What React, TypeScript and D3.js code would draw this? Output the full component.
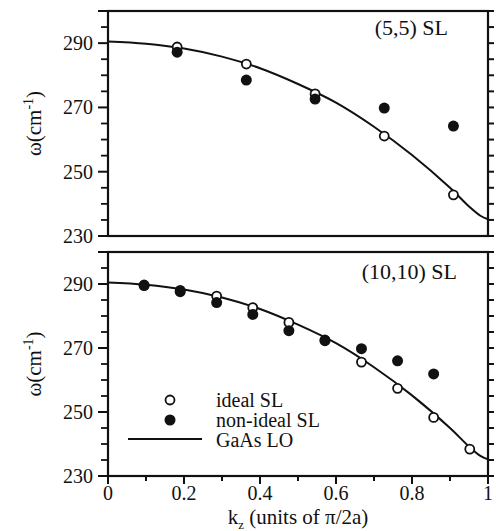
import React from 'react';
import * as d3 from 'd3';

// GaAs LO bulk dispersion
const curveK = [0, 0.1, 0.2, 0.3, 0.4, 0.5, 0.6, 0.7, 0.8, 0.9, 0.95, 0.98, 1.0];
const curveW = [290.5, 289.8, 288.3, 285.8, 282.2, 277.3, 271.5, 264.0, 255.2, 245.0, 239.2, 236.3, 235.2];

// (5,5) SL
const k5 = [0.182, 0.364, 0.545, 0.727, 0.909];
const ideal5 = [288.8, 283.5, 274.2, 261.1, 242.8];
const nonIdeal5 = [287.2, 278.5, 272.6, 269.8, 264.2];

// (10,10) SL
const k10 = [0.095, 0.19, 0.286, 0.381, 0.476, 0.571, 0.667, 0.762, 0.857, 0.952];
const ideal10 = [289.7, 288.0, 286.2, 282.6, 278.0, 272.5, 265.6, 257.4, 248.3, 238.4];
const nonIdeal10 = [289.5, 287.6, 284.2, 280.5, 275.4, 272.3, 269.8, 266.0, 261.9];

const yTicks = [230, 250, 270, 290];
const xTicks = [0, 0.2, 0.4, 0.6, 0.8, 1];
const legendLabels = ['ideal SL', 'non-ideal SL', 'GaAs LO'];

const W = 496;
const H = 531;
const left = 108;
const right = 488;
const font = '"Liberation Serif", "Times New Roman", serif';

const x = d3.scaleLinear().domain([0, 1]).range([left, right]);
const minorY = d3.range(230, 301, 5);
const minorX = d3.range(0, 1.001, 0.1);

type PanelProps = {
  top: number;
  bottom: number;
  label: string;
  ks: number[];
  ideal: number[];
  nonIdeal: number[];
  labelY: number;
  labelX: number;
  legend?: boolean;
  xAxis?: boolean;
};

const Panel = ({ top, bottom, label, ks, ideal, nonIdeal, labelY, labelX, legend, xAxis }: PanelProps) => {
  const y = d3.scaleLinear().domain([230, 300]).range([bottom, top]);
  const line = d3.line<number>()
    .x((d, i) => x(curveK[i]))
    .y(d => y(d))
    .curve(d3.curveCatmullRom.alpha(0.5));

  return (
    <g>
      {/* frame */}
      <rect x={left} y={top} width={right - left} height={bottom - top}
        fill="none" stroke="#111" strokeWidth={2.2} />
      {/* left ticks */}
      {minorY.map(v => {
        const major = yTicks.includes(v) || v === 300;
        return <line key={'l' + v} x1={left - (major ? 10 : 7)} x2={left} y1={y(v)} y2={y(v)}
          stroke="#111" strokeWidth={major ? 2 : 1.8} />;
      })}
      {/* right ticks */}
      {minorY.map(v => (
        <line key={'r' + v} x1={right} x2={right + 6} y1={y(v)} y2={y(v)} stroke="#111" strokeWidth={2} />
      ))}
      {yTicks.map(v => (
        <text key={'t' + v} x={left - 15} y={y(v)} dy="0.35em" textAnchor="end"
          fontFamily={font} fontSize={20} fill="#111">{v}</text>
      ))}
      {xAxis && minorX.map((v, i) => (
        <line key={'x' + i} x1={x(v)} x2={x(v)} y1={bottom} y2={bottom + (i % 2 === 0 ? 8 : 5)}
          stroke="#111" strokeWidth={2} />
      ))}
      {xAxis && xTicks.map(v => (
        <text key={'xt' + v} x={x(v)} y={bottom + 24} textAnchor="middle"
          fontFamily={font} fontSize={20} fill="#111">{v === 0 || v === 1 ? String(v) : v.toFixed(1)}</text>
      ))}
      {/* y label */}
      <text transform={`translate(41,${(top + bottom) / 2}) rotate(-90)`} textAnchor="middle"
        fontFamily={font} fontSize={21} fill="#111">
        ω(cm<tspan dy={-8} fontSize={14}>-1</tspan><tspan dy={8}>)</tspan>
      </text>
      {/* panel label */}
      <text x={labelX} y={labelY} textAnchor="end" fontFamily={font} fontSize={22} fill="#111">{label}</text>
      {/* curve */}
      <path d={line(curveW) ?? ''} fill="none" stroke="#111" strokeWidth={2} />
      {/* points */}
      {ks.map((k, i) => (
        <circle key={'o' + i} cx={x(k)} cy={y(ideal[i])} r={4.5} fill="#fff" stroke="#111" strokeWidth={1.8} />
      ))}
      {nonIdeal.map((v, i) => (
        <circle key={'f' + i} cx={x(ks[i])} cy={y(v)} r={5.5} fill="#111" />
      ))}
      {legend && (
        <g>
          <circle cx={170} cy={400} r={4.5} fill="#fff" stroke="#111" strokeWidth={1.8} />
          <circle cx={170} cy={420} r={5.5} fill="#111" />
          <line x1={128} x2={202} y1={439} y2={439} stroke="#111" strokeWidth={2} />
          {legendLabels.map((t, i) => (
            <text key={t} x={216} y={400 + i * 20} dy="0.35em" fontFamily={font} fontSize={20} fill="#111">{t}</text>
          ))}
        </g>
      )}
    </g>
  );
};

export default function App() {
  return (
    <svg width={W} height={H} style={{ position: 'absolute', left: 0, top: 0, background: '#fff' }}>
      <Panel top={11} bottom={236} label="(5,5) SL" ks={k5} ideal={ideal5} nonIdeal={nonIdeal5}
        labelX={448} labelY={35} />
      <Panel top={252} bottom={476} label="(10,10) SL" ks={k10} ideal={ideal10} nonIdeal={nonIdeal10}
        labelX={457} labelY={279} legend xAxis />
      <text x={(left + right) / 2} y={524} textAnchor="middle" fontFamily={font} fontSize={21} fill="#111">
        k<tspan dy={5} fontSize={13}>z</tspan><tspan dy={-5}> (units of π/2a)</tspan>
      </text>
    </svg>
  );
}
